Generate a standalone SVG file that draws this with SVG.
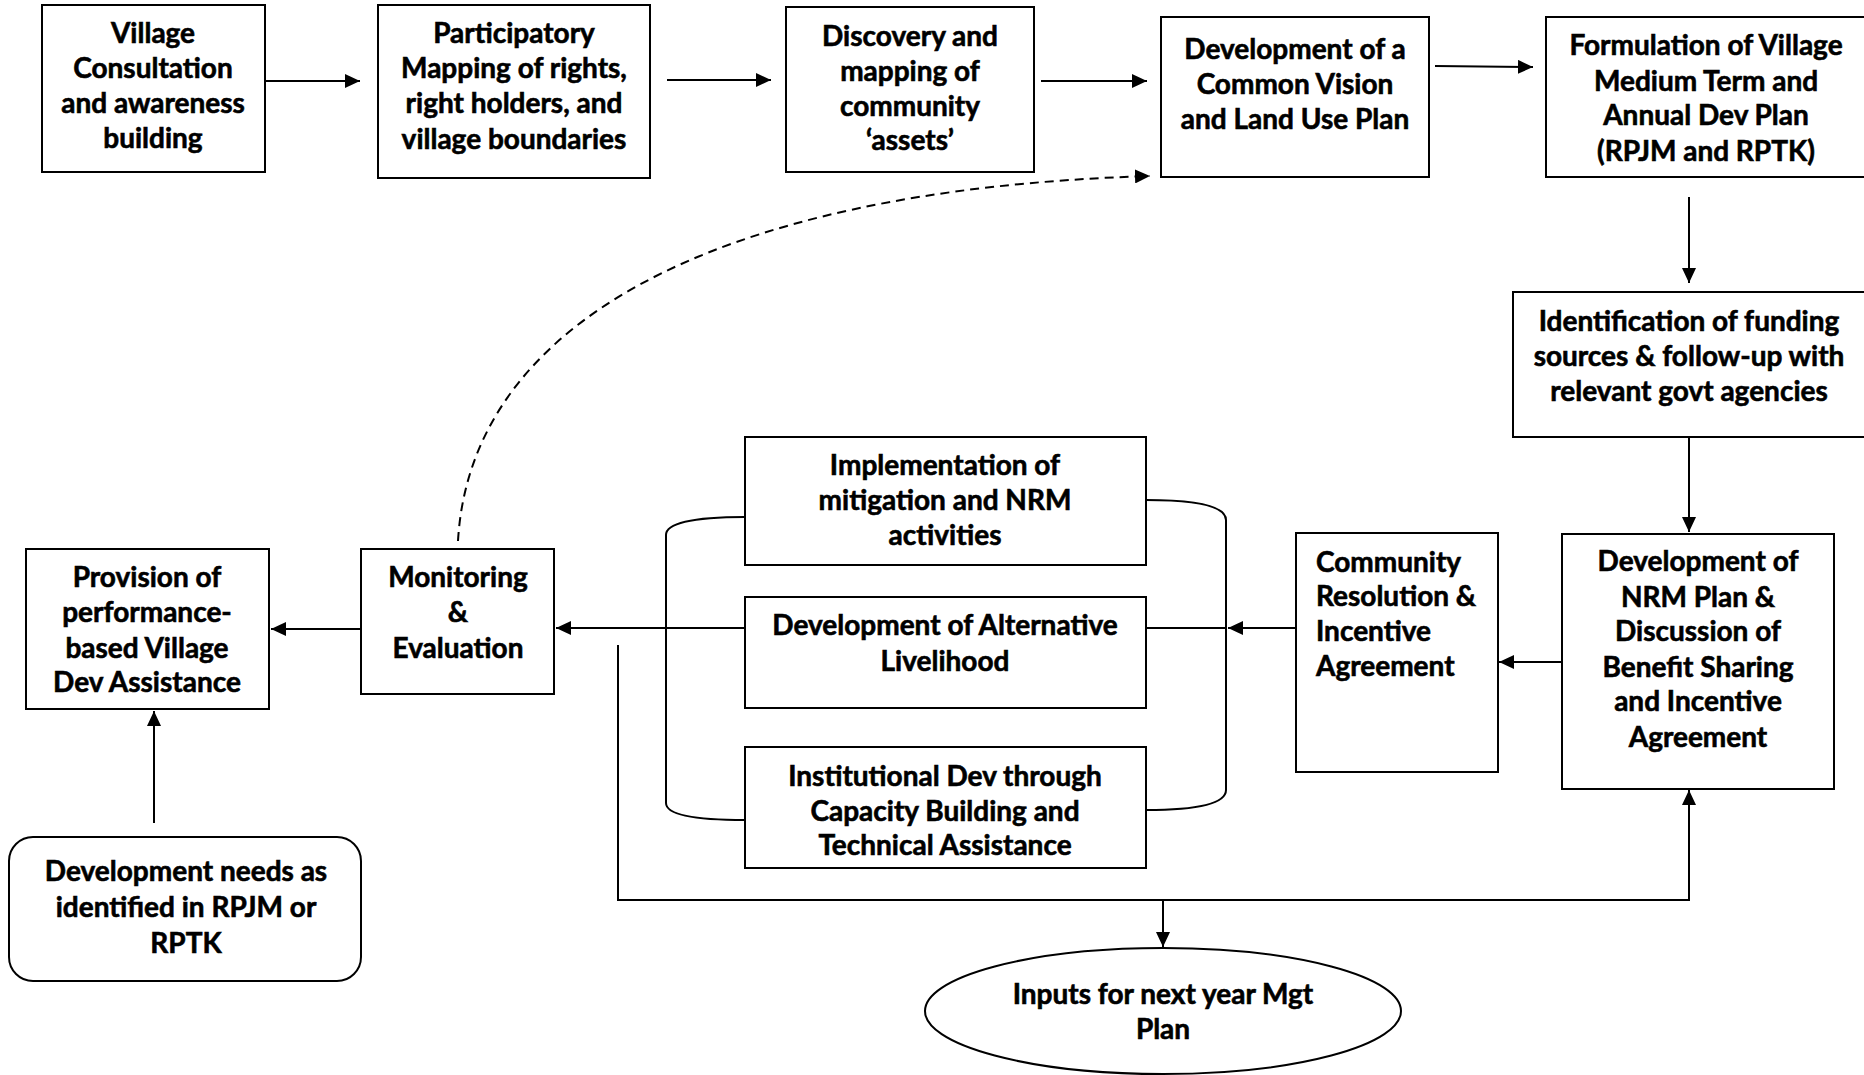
<svg xmlns="http://www.w3.org/2000/svg" width="1864" height="1075" viewBox="0 0 1864 1075">
<style>
.box{fill:#fff;stroke:#000;stroke-width:2}
.t{font-family:Lato,"Liberation Sans",sans-serif;font-weight:700;font-size:28px;text-anchor:middle;fill:#000;stroke:#000;stroke-width:0.6}
.l{text-anchor:start}
.c{fill:none;stroke:#000;stroke-width:2}
.d{stroke-dasharray:9 6}
</style>
<defs>
<marker id="ah" markerUnits="userSpaceOnUse" markerWidth="15" markerHeight="14" refX="15" refY="7" orient="auto">
<path d="M0,0 L15,7 L0,14 z" fill="#000"/>
</marker>
</defs>
<rect width="1864" height="1075" fill="#fff"/>
<g id="connectors">
<line class="c" x1="266" y1="81" x2="360" y2="81" marker-end="url(#ah)"/>
<line class="c" x1="667" y1="80" x2="771" y2="80" marker-end="url(#ah)"/>
<line class="c" x1="1041" y1="81" x2="1147" y2="81" marker-end="url(#ah)"/>
<line class="c" x1="1435" y1="66" x2="1533" y2="67" marker-end="url(#ah)"/>
<line class="c" x1="1689" y1="197" x2="1689" y2="283" marker-end="url(#ah)"/>
<line class="c" x1="1689" y1="437" x2="1689" y2="532" marker-end="url(#ah)"/>
<line class="c" x1="1562" y1="662" x2="1499" y2="662" marker-end="url(#ah)"/>
<line class="c" x1="1296" y1="628" x2="1228" y2="628" marker-end="url(#ah)"/>
<line class="c" x1="1146" y1="628" x2="1226" y2="628"/>
<path class="c" d="M1146 500 C1200 500 1226 507 1226 520 L1226 790 C1226 803 1200 810 1146 810"/>
<path class="c" d="M745 517 C690 517 666 524 666 535 L666 803 C666 814 690 820 745 820"/>
<line class="c" x1="745" y1="628" x2="556" y2="628" marker-end="url(#ah)"/>
<line class="c" x1="361" y1="629" x2="271" y2="629" marker-end="url(#ah)"/>
<line class="c" x1="154" y1="823" x2="154" y2="711" marker-end="url(#ah)"/>
<path class="c d" d="M458 541 C470 330 700 190 1150 176" marker-end="url(#ah)"/>
<path class="c" d="M618 645 V900 H1689 V790" marker-end="url(#ah)"/>
<line class="c" x1="1163" y1="900" x2="1163" y2="947" marker-end="url(#ah)"/>
</g>
<g id="n1"><rect class="box" x="42" y="5" width="223" height="167"/>
<text class="t" x="153" y="43">Village</text><text class="t" x="153" y="78">Consultation</text><text class="t" x="153" y="113">and awareness</text><text class="t" x="153" y="148">building</text></g>
<g id="n2"><rect class="box" x="378" y="5" width="272" height="173"/>
<text class="t" x="514" y="43">Participatory</text><text class="t" x="514" y="78">Mapping of rights,</text><text class="t" x="514" y="113">right holders, and</text><text class="t" x="514" y="149">village boundaries</text></g>
<g id="n3"><rect class="box" x="786" y="7" width="248" height="165"/>
<text class="t" x="910" y="46">Discovery and</text><text class="t" x="910" y="81">mapping of</text><text class="t" x="910" y="116">community</text><text class="t" x="910" y="150">‘assets’</text></g>
<g id="n4"><rect class="box" x="1161" y="17" width="268" height="160"/>
<text class="t" x="1295" y="59">Development of a</text><text class="t" x="1295" y="94">Common Vision</text><text class="t" x="1295" y="129">and Land Use Plan</text></g>
<g id="n5"><rect class="box" x="1546" y="17" width="330" height="160"/>
<text class="t" x="1706" y="55">Formulation of Village</text><text class="t" x="1706" y="91">Medium Term and</text><text class="t" x="1706" y="125">Annual Dev Plan</text><text class="t" x="1706" y="161">(RPJM and RPTK)</text></g>
<g id="n6"><rect class="box" x="1513" y="292" width="360" height="145"/>
<text class="t" x="1689" y="331">Identification of funding</text><text class="t" x="1689" y="366">sources &amp; follow-up with</text><text class="t" x="1689" y="401">relevant govt agencies</text></g>
<g id="n7"><rect class="box" x="1562" y="534" width="272" height="255"/>
<text class="t" x="1698" y="571">Development of</text><text class="t" x="1698" y="607">NRM Plan &amp;</text><text class="t" x="1698" y="641">Discussion of</text><text class="t" x="1698" y="677">Benefit Sharing</text><text class="t" x="1698" y="711">and Incentive</text><text class="t" x="1698" y="747">Agreement</text></g>
<g id="n8"><rect class="box" x="1296" y="533" width="202" height="239"/>
<text class="t l" x="1316" y="572">Community</text><text class="t l" x="1316" y="606">Resolution &amp;</text><text class="t l" x="1316" y="641">Incentive</text><text class="t l" x="1316" y="676">Agreement</text></g>
<g id="n9"><rect class="box" x="745" y="437" width="401" height="128"/>
<text class="t" x="945" y="475">Implementation of</text><text class="t" x="945" y="510">mitigation and NRM</text><text class="t" x="945" y="545">activities</text></g>
<g id="n10"><rect class="box" x="745" y="597" width="401" height="111"/>
<text class="t" x="945" y="635">Development of Alternative</text><text class="t" x="945" y="671">Livelihood</text></g>
<g id="n11"><rect class="box" x="745" y="747" width="401" height="121"/>
<text class="t" x="945" y="786">Institutional Dev through</text><text class="t" x="945" y="821">Capacity Building and</text><text class="t" x="945" y="855">Technical Assistance</text></g>
<g id="n12"><rect class="box" x="361" y="549" width="193" height="145"/>
<text class="t" x="458" y="587">Monitoring</text><text class="t" x="458" y="622">&amp;</text><text class="t" x="458" y="658">Evaluation</text></g>
<g id="n13"><rect class="box" x="26" y="549" width="243" height="160"/>
<text class="t" x="147" y="587">Provision of</text><text class="t" x="147" y="622">performance-</text><text class="t" x="147" y="658">based Village</text><text class="t" x="147" y="692">Dev Assistance</text></g>
<g id="n14"><rect class="box" x="9" y="837" width="352" height="144" rx="24"/>
<text class="t" x="186" y="881">Development needs as</text><text class="t" x="186" y="917">identified in RPJM or</text><text class="t" x="186" y="953">RPTK</text></g>
<g id="n15"><ellipse class="box" cx="1163" cy="1011" rx="238" ry="63"/>
<text class="t" x="1163" y="1004">Inputs for next year Mgt</text><text class="t" x="1163" y="1039">Plan</text></g>
</svg>
